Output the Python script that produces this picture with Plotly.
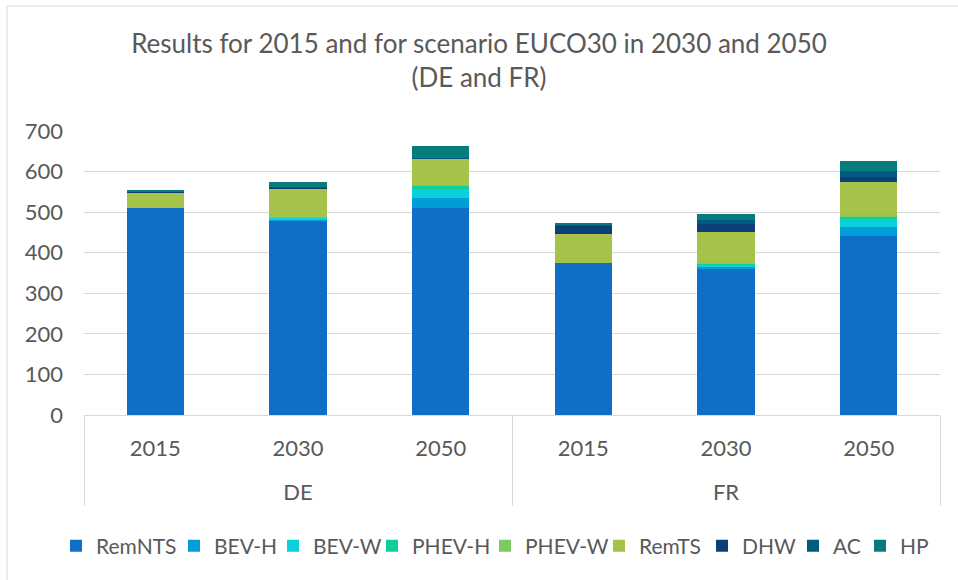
import plotly.graph_objects as go

countries = ["DE", "DE", "DE", "FR", "FR", "FR"]
years = ["2015", "2030", "2050", "2015", "2030", "2050"]

series_names = ["RemNTS", "BEV-H", "BEV-W", "PHEV-H", "PHEV-W", "RemTS", "DHW", "AC", "HP"]
RemNTS = [509, 479, 509, 374, 360, 442]
BEV_H = [0, 3, 25, 0, 5, 22]
BEV_W = [0, 4, 22, 0, 6, 20]
PHEV_H = [0, 1, 10, 0, 2, 6]
PHEV_W = [0, 1, 2, 0, 1, 3]
RemTS = [40, 71, 63, 72, 78, 82]
DHW = [1, 1, 1, 21, 20, 11]
AC = [1, 2, 2, 3, 8, 16]
HP = [2, 13, 30, 4, 15, 25]
series_values = [RemNTS, BEV_H, BEV_W, PHEV_H, PHEV_W, RemTS, DHW, AC, HP]
colors = ["#0F6FC6", "#009DD9", "#0BD0D9", "#10CF9B", "#7CCA62", "#A5C249",
          "#0B3F75", "#005B80", "#077C7C"]

y_ticks = [0, 100, 200, 300, 400, 500, 600, 700]

W, H = 958, 580
L, R, T, B = 84, 18, 131, 165
pw, ph = W - L - R, H - T - B

def px(x):
    return (x - L) / pw

def py(y):
    return (H - B - y) / ph

FONT = "Lato, 'Open Sans', sans-serif"
GREY = "#595959"

# year labels get an empty second line so the country row sits lower, as in the reference
year_labels = [y + "<br>\u00a0" for y in years]

# legend text start positions (pixels) for each entry, laid out in one row
legend_text_x = [93, 211, 310, 409, 522, 636, 739, 830, 897]

fig = go.Figure()
legend_layouts = {}
for i, (name, vals, col) in enumerate(zip(series_names, series_values, colors)):
    lg = "legend" if i == 0 else f"legend{i + 1}"
    fig.add_trace(go.Bar(x=[countries, year_labels], y=vals, name=name, legend=lg,
                         showlegend=True,
                         marker=dict(color=col, line=dict(width=0))))
    legend_layouts[lg] = dict(
        orientation="h", xref="container", yref="container",
        x=(legend_text_x[i] - 37) / W, xanchor="left",
        y=1 - 546 / H, yanchor="middle",
        font=dict(size=21, color=GREY, family=FONT),
        itemwidth=30, borderwidth=0, bgcolor="rgba(0,0,0,0)")

fig.update_layout(
    width=W, height=H, showlegend=True,
    barmode="stack", bargap=0.6,
    margin=dict(l=L, r=R, t=T, b=B),
    paper_bgcolor="white", plot_bgcolor="white",
    font=dict(family=FONT, color=GREY, size=21),
    title=dict(text="Results for 2015 and for scenario EUCO30 in 2030 and 2050<br>(DE and FR)",
               x=0.5, xanchor="center", y=1 - 53 / H, yanchor="top",
               font=dict(size=26, color=GREY)),
    xaxis=dict(type="multicategory", showdividers=True, dividercolor="#D9D9D9",
               dividerwidth=1, showline=True, linecolor="#D9D9D9", linewidth=1,
               tickfont=dict(size=22, color=GREY), ticks="", ticklabelstandoff=14),
    yaxis=dict(range=[0, 700], tickvals=y_ticks, showgrid=True, gridcolor="#D9D9D9",
               gridwidth=1, zeroline=False, showline=False,
               tickfont=dict(size=22, color=GREY), ticklabelstandoff=20),
    shapes=[dict(type="rect", xref="paper", yref="paper",
                 x0=px(7), x1=px(1100), y0=py(700), y1=py(6),
                 line=dict(color="#D9D9D9", width=1), layer="below")],
    **legend_layouts,
)

fig.write_html("out.html", config={"displayModeBar": False},
               post_script="document.body.style.margin='0';document.body.style.overflow='hidden';")
